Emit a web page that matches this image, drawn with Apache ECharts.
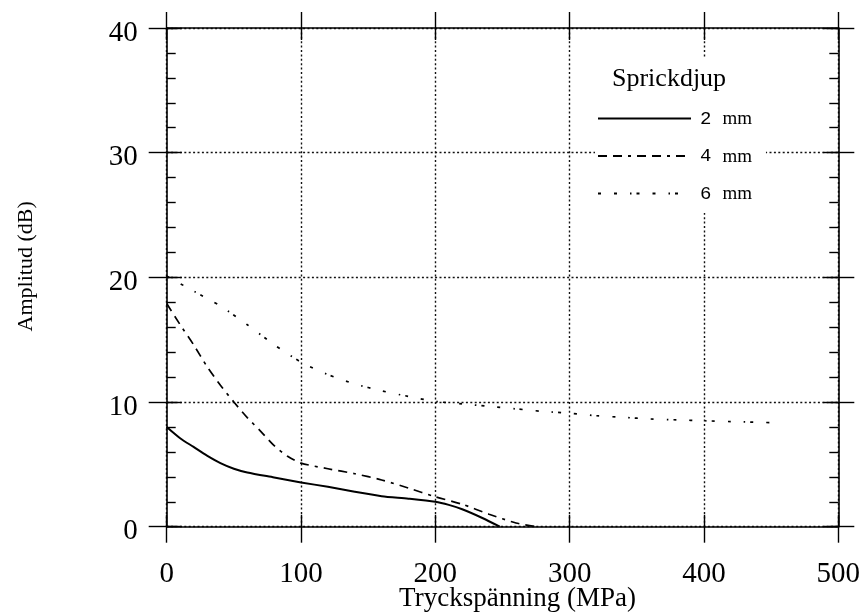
<!DOCTYPE html>
<html>
<head>
<meta charset="utf-8">
<script src="https://cdn.jsdelivr.net/npm/echarts@6/dist/echarts.min.js"></script>
<style>
  html, body { margin: 0; padding: 0; background: #fff; }
  #chart { width: 863px; height: 616px; }
</style>
</head>
<body>
<div id="chart"></div>
<script>
// Tick values for both axes
const xTicks = [0, 100, 200, 300, 400, 500];
const yTicks = [0, 10, 20, 30, 40];
const yMinorStep = 2;

// Crack depth 2 mm
const stress2 = [0, 10, 20, 30, 40, 50, 60, 80, 100, 120, 140, 160, 180, 200, 210, 220, 235, 248];
const amp2    = [8.0, 7.1, 6.4, 5.7, 5.1, 4.65, 4.35, 3.95, 3.55, 3.2, 2.8, 2.45, 2.25, 2.0, 1.75, 1.4, 0.7, 0];

// Crack depth 4 mm
const stress4 = [0, 10, 20, 30, 40, 50, 60, 70, 80, 90, 100, 120, 140, 160, 180, 200, 220, 240, 260, 275];
const amp4    = [17.9, 16.2, 14.6, 12.85, 11.35, 10.0, 8.75, 7.65, 6.5, 5.65, 5.1, 4.65, 4.25, 3.75, 3.1, 2.4, 1.8, 1.0, 0.3, 0];

// Crack depth 6 mm
const stress6 = [0, 20, 40, 60, 80, 100, 120, 140, 160, 180, 200, 220, 240, 260, 280, 300, 320, 340, 360, 380, 400, 420, 450];
const amp6    = [20.1, 18.9, 17.7, 16.2, 14.6, 13.2, 12.2, 11.45, 10.9, 10.45, 10.05, 9.85, 9.65, 9.45, 9.25, 9.1, 8.9, 8.77, 8.64, 8.57, 8.5, 8.43, 8.35];

const seriesNames = ['2 mm', '4 mm', '6 mm'];
const legendTitle = 'Sprickdjup';
const xName = 'Tryckspänning (MPa)';
const yName = 'Amplitud (dB)';

const zip = (xs, ys) => xs.map((x, i) => [x, ys[i]]);

const SERIF = 'Liberation Serif';
const INK = '#000';

const xRange = { min: xTicks[0], max: xTicks[xTicks.length - 1], interval: xTicks[1] - xTicks[0] };
const yRange = { min: yTicks[0], max: yTicks[yTicks.length - 1], interval: yTicks[1] - yTicks[0] };
const yMinorRange = { min: yRange.min, max: yRange.max, interval: yMinorStep };

const dotted = { type: [2, 2.4], color: '#111', width: 1.4 };

// A bare value axis sharing the plot scale; used for frame sides and tick rows.
// onZero is off so every axis stays on its own side of the frame.
function frameAxis(range, position, opts) {
  return Object.assign({
    type: 'value',
    position: position,
    offset: 0,
    min: range.min,
    max: range.max,
    interval: range.interval,
    axisLine: { show: false, onZero: false },
    axisTick: { show: false },
    axisLabel: { show: false },
    splitLine: { show: false }
  }, opts);
}

const outerTick = len => ({ show: true, inside: false, length: len, lineStyle: { color: INK, width: 1.4 } });
const innerTick = len => ({ show: true, inside: true, length: len, lineStyle: { color: INK, width: 1.4 } });
const frameLine = { show: true, onZero: false, lineStyle: { color: INK, width: 1.6 } };

const option = {
  animation: false,
  backgroundColor: '#fff',
  grid: { left: 166.7, right: 24.7, top: 28, bottom: 89.3, containLabel: false, outerBoundsMode: 'none' },
  title: {
    text: legendTitle,
    left: 612,
    top: 66,
    padding: 0,
    z: 10,
    textStyle: { fontFamily: SERIF, fontSize: 26, fontWeight: 'normal', color: INK }
  },
  legend: {
    data: seriesNames,
    orient: 'vertical',
    left: 595,
    top: 57,
    padding: [52, 14, 9, 2],
    itemWidth: 93,
    itemHeight: 14,
    itemGap: 17.5,
    backgroundColor: '#fff',
    selectedMode: false,
    itemStyle: { opacity: 0 },
    formatter: name => {
      const parts = name.split(' ');
      return '{n|' + parts[0] + '}{u|' + parts[1] + '}';
    },
    textStyle: {
      color: INK,
      rich: {
        n: { fontFamily: 'Liberation Mono', fontSize: 19, color: INK, padding: [0, 0, 0, 4] },
        u: { fontFamily: SERIF, fontSize: 19, color: INK, padding: [2, 0, 0, 11] }
      }
    }
  },
  xAxis: [
    frameAxis(xRange, 'bottom', {
      axisLine: frameLine,
      axisTick: outerTick(16),
      axisLabel: { show: true, margin: 33, fontFamily: SERIF, fontSize: 29, color: INK },
      splitLine: { show: true, lineStyle: dotted },
      name: xName,
      nameLocation: 'middle',
      nameGap: 59,
      nameMoveOverlap: false,
      nameTextStyle: { fontFamily: SERIF, fontSize: 27, color: INK, padding: [0, 0, 0, 30] }
    }),
    frameAxis(xRange, 'bottom', { axisTick: innerTick(12) }),
    frameAxis(xRange, 'top', { axisLine: frameLine, axisTick: outerTick(16) }),
    frameAxis(xRange, 'top', { axisTick: innerTick(12) })
  ],
  yAxis: [
    frameAxis(yRange, 'left', {
      axisLine: frameLine,
      axisTick: outerTick(18),
      axisLabel: {
        show: true, margin: 29, color: INK,
        formatter: v => '{v|' + v + '}',
        rich: { v: { fontFamily: SERIF, fontSize: 29, color: INK, padding: [10, 0, 0, 0] } }
      },
      splitLine: { show: true, lineStyle: dotted },
      name: yName,
      nameLocation: 'middle',
      nameGap: 129,
      nameRotate: 90,
      nameMoveOverlap: false,
      nameTextStyle: { fontFamily: SERIF, fontSize: 22, color: INK, padding: [0, 0, 0, 22] }
    }),
    frameAxis(yRange, 'left', { axisTick: innerTick(15) }),
    frameAxis(yMinorRange, 'left', { axisTick: innerTick(9) }),
    frameAxis(yRange, 'right', { axisLine: frameLine, axisTick: outerTick(16) }),
    frameAxis(yRange, 'right', { axisTick: innerTick(15) }),
    frameAxis(yMinorRange, 'right', { axisTick: innerTick(9) })
  ],
  series: [
    {
      name: seriesNames[0], type: 'line', xAxisIndex: 0, yAxisIndex: 0,
      data: zip(stress2, amp2), symbol: 'none', smooth: 0.25,
      lineStyle: { color: INK, width: 2, type: 'solid' }, itemStyle: { color: INK }
    },
    {
      name: seriesNames[1], type: 'line', xAxisIndex: 0, yAxisIndex: 0,
      data: zip(stress4, amp4), symbol: 'none', smooth: 0.25,
      lineStyle: { color: INK, width: 1.7, type: [9, 6, 9, 6, 3, 6] }, itemStyle: { color: INK }
    },
    {
      name: seriesNames[2], type: 'line', xAxisIndex: 0, yAxisIndex: 0,
      data: zip(stress6, amp6), symbol: 'none', smooth: 0.25,
      lineStyle: { color: INK, width: 1.7, type: [3, 13, 3, 13, 1.5, 5] }, itemStyle: { color: INK }
    }
  ]
};

const chart = echarts.init(document.getElementById('chart'), null, { renderer: 'canvas' });
chart.setOption(option);
</script>
</body>
</html>
